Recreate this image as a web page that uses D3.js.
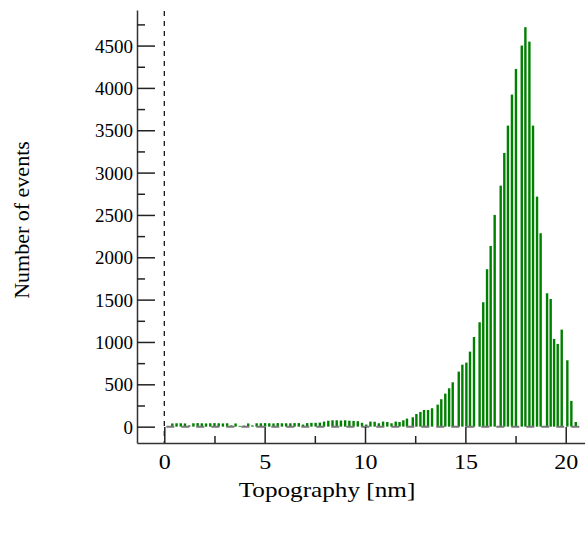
<!DOCTYPE html>
<html>
<head>
<meta charset="utf-8">
<script src="https://cdn.jsdelivr.net/npm/d3@7"></script>
<style>
  body { margin: 0; background: #fff; }
  svg { display: block; }
</style>
</head>
<body>
<svg></svg>
<script>
// histogram bins (nm) and counts
var binCenters = [0.40, 0.61, 0.82, 1.03, 1.24, 1.45, 1.66, 1.87, 2.08, 2.29,
    2.50, 2.71, 2.92, 3.13, 3.34, 3.55, 3.76, 3.97, 4.18, 4.39,
    4.60, 4.81, 5.02, 5.23, 5.44, 5.65, 5.86, 6.07, 6.28, 6.49,
    6.70, 6.91, 7.12, 7.33, 7.54, 7.75, 7.96, 8.17, 8.38, 8.59,
    8.80, 9.01, 9.22, 9.43, 9.64, 9.85, 10.06, 10.27, 10.48, 10.69,
    10.90, 11.11, 11.32, 11.53, 11.72, 11.91, 12.09, 12.38, 12.56, 12.76,
    12.94, 13.14, 13.34, 13.62, 13.80, 14.00, 14.19, 14.37, 14.67, 14.85,
    15.05, 15.23, 15.43, 15.71, 15.89, 16.08, 16.26, 16.46, 16.76, 16.94,
    17.12, 17.32, 17.52, 17.81, 17.99, 18.19, 18.37, 18.57, 18.75, 19.07,
    19.25, 19.42, 19.60, 19.80, 20.08, 20.28, 20.50];
var counts = [38, 40, 40, 38, 15, 40, 42, 40, 38, 40,
    42, 40, 38, 40, 15, 38, 10, 12, 38, 15,
    40, 40, 42, 40, 38, 42, 40, 40, 40, 42,
    42, 25, 42, 45, 45, 48, 60, 70, 75, 75,
    72, 75, 70, 68, 65, 45, 25, 60, 58, 40,
    60, 55, 40, 60, 55, 75, 95, 111, 150, 174,
    197, 197, 217, 260, 324, 390, 453, 524, 650, 732,
    756, 886, 1059, 1233, 1469, 1859, 2134, 2500, 2846, 3232,
    3555, 3921, 4224, 4500, 4717, 4547, 3555, 2716, 2284, 1575,
    1508, 1036, 977, 1146, 784, 304, 55];

var yTicks = [0, 500, 1000, 1500, 2000, 2500, 3000, 3500, 4000, 4500];
var yMinorTicks = [250, 750, 1250, 1750, 2250, 2750, 3250, 3750, 4250, 4750];
var xTicks = [0, 5, 10, 15, 20];
var xMinorTicks = [2.5, 7.5, 12.5, 17.5];

var svgWidth = 585, svgHeight = 536;
var font = "'Liberation Serif', 'Times New Roman', serif";
var stretch = "scale(1.2,1)";   // horizontal texts look a bit wider than tall

var svg = d3.select('svg')
    .attr("width", svgWidth)
    .attr("height", svgHeight);

var xScale = d3.scaleLinear()
    .domain([-1.36, 20.96])
    .range([137, 585]);

var yScale = d3.scaleLinear()
    .domain([-193, 4920])
    .range([443, 10]);

// bars (drawn as thin sticks)
svg.append("g").selectAll("rect")
    .data(binCenters)
    .enter()
    .append("rect")
    .attr("x", function(d) { return xScale(d) - 1.2; })
    .attr("width", 2.4)
    .attr("y", function(d, i) { return yScale(counts[i]); })
    .attr("height", function(d, i) { return yScale(0) - yScale(counts[i]); })
    .attr("fill", "#008000");

// zero reference lines
svg.append("line")
    .attr("x1", xScale(0)).attr("x2", xScale(0))
    .attr("y1", yScale.range()[1] + 1).attr("y2", yScale.range()[0])
    .attr("stroke", "#000")
    .attr("stroke-width", 1.2)
    .attr("stroke-dasharray", "5,5");

svg.append("line")
    .attr("x1", xScale(0) + 2).attr("x2", svgWidth)
    .attr("y1", yScale(0)).attr("y2", yScale(0))
    .attr("stroke", "#777")
    .attr("stroke-width", 2)
    .attr("stroke-dasharray", "8,7");

// y axis
var yAxis = svg.append("g")
    .attr("transform", "translate(" + xScale.range()[0] + ",0)")
    .call(d3.axisLeft(yScale).tickValues(yTicks).tickFormat(d3.format("d"))
        .tickSizeInner(-18).tickSizeOuter(0).tickPadding(4));

svg.append("g")
    .attr("transform", "translate(" + xScale.range()[0] + ",0)")
    .call(d3.axisLeft(yScale).tickValues(yMinorTicks).tickSizeInner(-8).tickSizeOuter(0).tickFormat(""))
    .select(".domain").remove();

// x axis
var xAxis = svg.append("g")
    .attr("transform", "translate(0," + yScale.range()[0] + ")")
    .call(d3.axisBottom(xScale).tickValues(xTicks).tickFormat(d3.format("d"))
        .tickSizeInner(-16).tickSizeOuter(0).tickPadding(12));

svg.append("g")
    .attr("transform", "translate(0," + yScale.range()[0] + ")")
    .call(d3.axisBottom(xScale).tickValues(xMinorTicks).tickSizeInner(-7).tickSizeOuter(0).tickFormat(""))
    .select(".domain").remove();

svg.selectAll(".domain").attr("stroke", "#333").attr("stroke-width", 1.5);
svg.selectAll(".tick line").attr("stroke", "#222").attr("stroke-width", 1.5);
svg.selectAll(".tick text")
    .attr("font-family", font)
    .attr("fill", "#000");
xAxis.selectAll(".tick text")
    .attr("font-size", 20)
    .attr("dy", "0.71em")
    .attr("transform", stretch);
yAxis.selectAll(".tick text")
    .attr("font-size", 19)
    .attr("dy", "0.35em");

// axis titles
svg.append("text")
    .attr("transform", "translate(327,497) " + stretch)
    .attr("text-anchor", "middle")
    .attr("font-family", font)
    .attr("font-size", 21)
    .text("Topography [nm]");

svg.append("text")
    .attr("transform", "translate(29,220) rotate(-90)")
    .attr("text-anchor", "middle")
    .attr("font-family", font)
    .attr("font-size", 22)
    .text("Number of events");
</script>
</body>
</html>
